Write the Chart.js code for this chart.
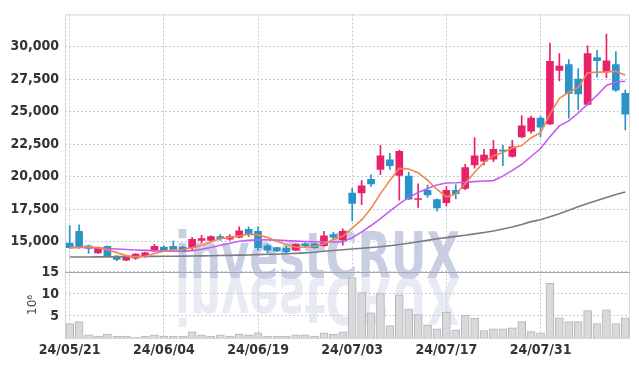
<!DOCTYPE html>
<html>
<head>
<meta charset="utf-8">
<script src="https://cdn.jsdelivr.net/npm/chart.js@4.4.1/dist/chart.umd.min.js"></script>
<style>
  html, body { margin: 0; padding: 0; background: #fff; }
  canvas { display: block; }
</style>
</head>
<body>
<canvas id="stockChart" width="639" height="366"></canvas>
<script>
// trading days
var dates = ['24/05/21', '24/05/22', '24/05/23', '24/05/24', '24/05/27', '24/05/28', '24/05/29', '24/05/30', '24/05/31',
    '24/06/03', '24/06/04', '24/06/05', '24/06/07', '24/06/10', '24/06/11', '24/06/12', '24/06/13', '24/06/14', '24/06/17',
    '24/06/18', '24/06/19', '24/06/20', '24/06/21', '24/06/24', '24/06/25', '24/06/26', '24/06/27', '24/06/28',
    '24/07/01', '24/07/02', '24/07/03', '24/07/04', '24/07/05', '24/07/08', '24/07/09', '24/07/10', '24/07/11', '24/07/12',
    '24/07/15', '24/07/16', '24/07/17', '24/07/18', '24/07/19', '24/07/22', '24/07/23', '24/07/24', '24/07/25', '24/07/26',
    '24/07/29', '24/07/30', '24/07/31', '24/08/01', '24/08/02', '24/08/05', '24/08/06', '24/08/07', '24/08/08', '24/08/09',
    '24/08/12', '24/08/13'];

// daily prices
var opens = [14900, 15800, 14700, 14150, 14650, 13900, 13600, 13750, 13850, 14300,
    14600, 14650, 14600, 14550, 15100, 15100, 15400, 15200, 15350, 15950,
    15800, 14700, 14550, 14500, 14350, 14850, 14850, 14700, 15550, 15150,
    18750, 18750, 19800, 20550, 21300, 20100, 20050, 18250, 18950, 18250,
    18000, 18950, 19100, 20900, 21200, 21350, 22050, 21550, 23050, 23500,
    24500, 24050, 28150, 28600, 27500, 25550, 29150, 28050, 28600, 26400];
var highs = [16250, 16300, 14750, 14600, 14700, 13950, 13850, 14100, 14200, 14800,
    14700, 15050, 14650, 15350, 15500, 15450, 15550, 15550, 16150, 16150,
    16150, 14800, 14600, 14650, 14850, 14950, 14900, 15800, 15750, 16000,
    19100, 19700, 20150, 22400, 21800, 22050, 20350, 19450, 19350, 18300,
    19250, 19400, 20950, 23000, 22100, 22800, 22400, 22800, 24700, 24650,
    24650, 30250, 29450, 29000, 28300, 30050, 29700, 30950, 29600, 26650];
var lows = [14500, 14500, 14100, 14100, 13850, 13550, 13550, 13650, 13800, 14250,
    14250, 14300, 14250, 14400, 14900, 15050, 15100, 15100, 15300, 15400,
    14350, 14150, 14250, 14150, 14300, 14550, 14500, 14650, 15250, 14750,
    16600, 17850, 19250, 20150, 20550, 18200, 18250, 17650, 18400, 17350,
    17750, 18300, 19000, 20650, 20900, 21150, 20850, 21500, 23000, 23350,
    23050, 24000, 27350, 24500, 25150, 25500, 27650, 27600, 26550, 23600];
var closes = [14550, 14550, 14500, 14550, 13900, 13650, 13800, 14050, 14150, 14650,
    14300, 14350, 14300, 15200, 15250, 15400, 15250, 15400, 15850, 15550,
    14550, 14350, 14300, 14250, 14800, 14700, 14550, 15450, 15350, 15800,
    17950, 19300, 19450, 21600, 20850, 21950, 18270, 18300, 18600, 17600,
    18950, 18700, 20700, 21600, 21650, 22100, 21950, 22300, 23900, 24500,
    23800, 28850, 28500, 26400, 26350, 29450, 28900, 28900, 26650, 24800];

// moving average lines as drawn
var maShort = [14550, 14580, 14620, 14550, 14390, 14170, 13940, 13840, 13890, 14110,
    14270, 14390, 14410, 14550, 14730, 15000, 15230, 15340, 15470, 15580,
    15530, 15340, 15040, 14790, 14580, 14580, 14660, 14850, 15170, 15420,
    16050, 16680, 17560, 18700, 19710, 20640, 20590, 20300, 19740, 19020,
    18450, 18670, 19470, 20340, 21100, 21610, 21860, 22200, 22390, 22990,
    23370, 24810, 26020, 26480, 26860, 27970, 28030, 28050, 28090, 27790];
var maMid = [14550, 14560, 14560, 14530, 14490, 14450, 14410, 14370, 14340, 14320,
    14300, 14270, 14260, 14320, 14430, 14560, 14730, 14890, 15040, 15110,
    15150, 15150, 15130, 15090, 15050, 15020, 15000, 15000, 14980, 14980,
    15300, 15760, 16250, 16780, 17350, 17920, 18410, 18790, 19090, 19360,
    19510, 19530, 19570, 19620, 19670, 19700, 20040, 20490, 20950, 21550,
    22160, 23070, 23900, 24280, 24890, 25570, 26250, 27010, 27270, 27330];
var maLong = [13830, 13830, 13830, 13840, 13840, 13850, 13860, 13860, 13870, 13880,
    13890, 13890, 13900, 13910, 13920, 13930, 13950, 13960, 13980, 13990,
    14020, 14040, 14050, 14080, 14110, 14150, 14200, 14270, 14330, 14390,
    14450, 14510, 14560, 14620, 14700, 14790, 14890, 15000, 15110, 15230,
    15320, 15420, 15510, 15610, 15720, 15830, 15980, 16140, 16330, 16550,
    16700, 16930, 17160, 17420, 17690, 17950, 18180, 18410, 18640, 18830];

// volume in millions of shares
var volumes = [3.3, 3.7, 0.7, 0.45, 0.9, 0.45, 0.45, 0.2, 0.45, 0.7,
    0.45, 0.45, 0.45, 1.4, 0.7, 0.45, 0.7, 0.45, 0.9, 0.7,
    1.15, 0.45, 0.45, 0.45, 0.7, 0.7, 0.45, 1.15, 0.85, 1.4,
    13.7, 10.3, 5.7, 10.1, 2.8, 9.8, 6.6, 5.3, 3.0, 2.1,
    5.9, 1.8, 5.2, 4.5, 1.7, 2.1, 2.1, 2.3, 3.7, 1.45,
    1.2, 12.4, 4.6, 3.7, 3.7, 6.2, 3.3, 6.4, 3.3, 4.6];

var priceTicks = [15000, 17500, 20000, 22500, 25000, 27500, 30000];
var volumeTicks = [5, 10, 15];
var dateTickEvery = 10;

var upColor = '#e8216a';
var downColor = '#2a93c8';
var gridColor = '#c6c9da';
var labelFont = { family: "'Liberation Sans Narrow', 'DejaVu Sans Condensed', sans-serif", size: 14, weight: 'bold' };

var candleColors = opens.map(function (o, i) { return closes[i] >= o ? upColor : downColor; });
var bodies = opens.map(function (o, i) { return [Math.min(o, closes[i]), Math.max(o, closes[i])]; });
var wicks = lows.map(function (l, i) { return [l, highs[i]]; });

// watermark + pane frame, drawn under the marks
var backdrop = {
    id: 'backdrop',
    beforeDatasetsDraw: function (chart) {
        var ctx = chart.ctx, area = chart.chartArea, vol = chart.scales.yVol;
        ctx.save();
        var text = 'investCRUX';
        ctx.font = 'bold 64px "DejaVu Sans", sans-serif';
        var w = ctx.measureText(text).width;
        var x0 = area.left + 110, base = vol.top + 6;
        ctx.translate(x0, base);
        ctx.scale(285 / w, 1);
        ctx.fillStyle = '#c9cfe3';
        ctx.textBaseline = 'alphabetic';
        ctx.fillText(text, 0, 0);
        ctx.scale(1, -1);
        var g = ctx.createLinearGradient(0, 0, 0, 48);
        g.addColorStop(0, 'rgba(205,210,230,0.45)');
        g.addColorStop(1, 'rgba(205,210,230,0.05)');
        ctx.fillStyle = g;
        ctx.fillText(text, 0, 0);
        ctx.restore();

        ctx.save();
        ctx.strokeStyle = '#d4d5de';
        ctx.lineWidth = 1;
        ctx.strokeRect(area.left + 0.5, area.top + 0.5, area.right - area.left - 1, area.bottom - area.top);
        ctx.strokeStyle = '#a4a6b3';
        ctx.beginPath();
        ctx.moveTo(area.left, Math.round(vol.top) + 0.5);
        ctx.lineTo(area.right, Math.round(vol.top) + 0.5);
        ctx.stroke();
        ctx.restore();
    }
};

var ctx = document.getElementById('stockChart').getContext('2d');

var stockChart = new Chart(ctx, {
    type: 'bar',
    data: {
        labels: dates,
        datasets: [
            { type: 'line', data: maShort, borderColor: '#f0884c', borderWidth: 1.6, pointRadius: 0, yAxisID: 'y', order: 0 },
            { type: 'line', data: maMid, borderColor: '#c65cf0', borderWidth: 1.6, pointRadius: 0, yAxisID: 'y', order: 0 },
            { type: 'line', data: maLong, borderColor: '#7c7c80', borderWidth: 1.6, pointRadius: 0, yAxisID: 'y', order: 0 },
            { data: bodies, backgroundColor: candleColors, barThickness: 7, minBarLength: 1, grouped: false, yAxisID: 'y', order: 1 },
            { data: wicks, backgroundColor: candleColors, barThickness: 1, grouped: false, yAxisID: 'y', order: 2 },
            { data: volumes, backgroundColor: '#d9d9dc', borderColor: '#b4b4b8', borderWidth: 1, barThickness: 8, grouped: false, yAxisID: 'yVol', order: 3 }
        ]
    },
    options: {
        responsive: false,
        animation: false,
        devicePixelRatio: 1,
        layout: { padding: { top: 10, right: 9, left: 0, bottom: 0 } },
        plugins: { legend: { display: false }, tooltip: { enabled: false } },
        scales: {
            x: {
                type: 'category',
                offset: true,
                grid: { offset: false, color: gridColor, drawTicks: false },
                border: { display: false, dash: [2, 2] },
                ticks: { autoSkip: false, maxRotation: 0, padding: 4, color: '#333', font: labelFont },
                afterBuildTicks: function (s) {
                    s.ticks = s.ticks.filter(function (t, i) { return i % dateTickEvery === 0; });
                },
                afterFit: function (s) { s.height = 28; }
            },
            y: {
                position: 'left', stack: 'panes', stackWeight: 261, weight: 1,
                min: 12690, max: 32460,
                afterBuildTicks: function (s) {
                    s.ticks = priceTicks.map(function (v) { return { value: v }; });
                },
                ticks: {
                    autoSkip: false, padding: 6, color: '#333', font: labelFont,
                    callback: function (v) { return v.toLocaleString('en-US'); }
                },
                grid: { color: gridColor, drawTicks: false },
                border: { display: false, dash: [2, 2] },
                afterFit: function (s) { s.width = 65; }
            },
            yVol: {
                position: 'left', stack: 'panes', stackWeight: 67, weight: 0,
                min: 0, max: 15,
                afterBuildTicks: function (s) {
                    s.ticks = volumeTicks.map(function (v) { return { value: v }; });
                },
                ticks: { autoSkip: false, padding: 6, color: '#333', font: labelFont },
                grid: { color: gridColor, drawTicks: false },
                border: { display: false, dash: [2, 2] },
                title: {
                    display: true, text: '10\u2076', color: '#444',
                    font: { family: "'DejaVu Sans', sans-serif", size: 12 },
                    padding: { top: 26, bottom: 0 }
                },
                afterFit: function (s) { s.width = 65; }
            }
        }
    },
    plugins: [backdrop]
});
</script>
</body>
</html>
